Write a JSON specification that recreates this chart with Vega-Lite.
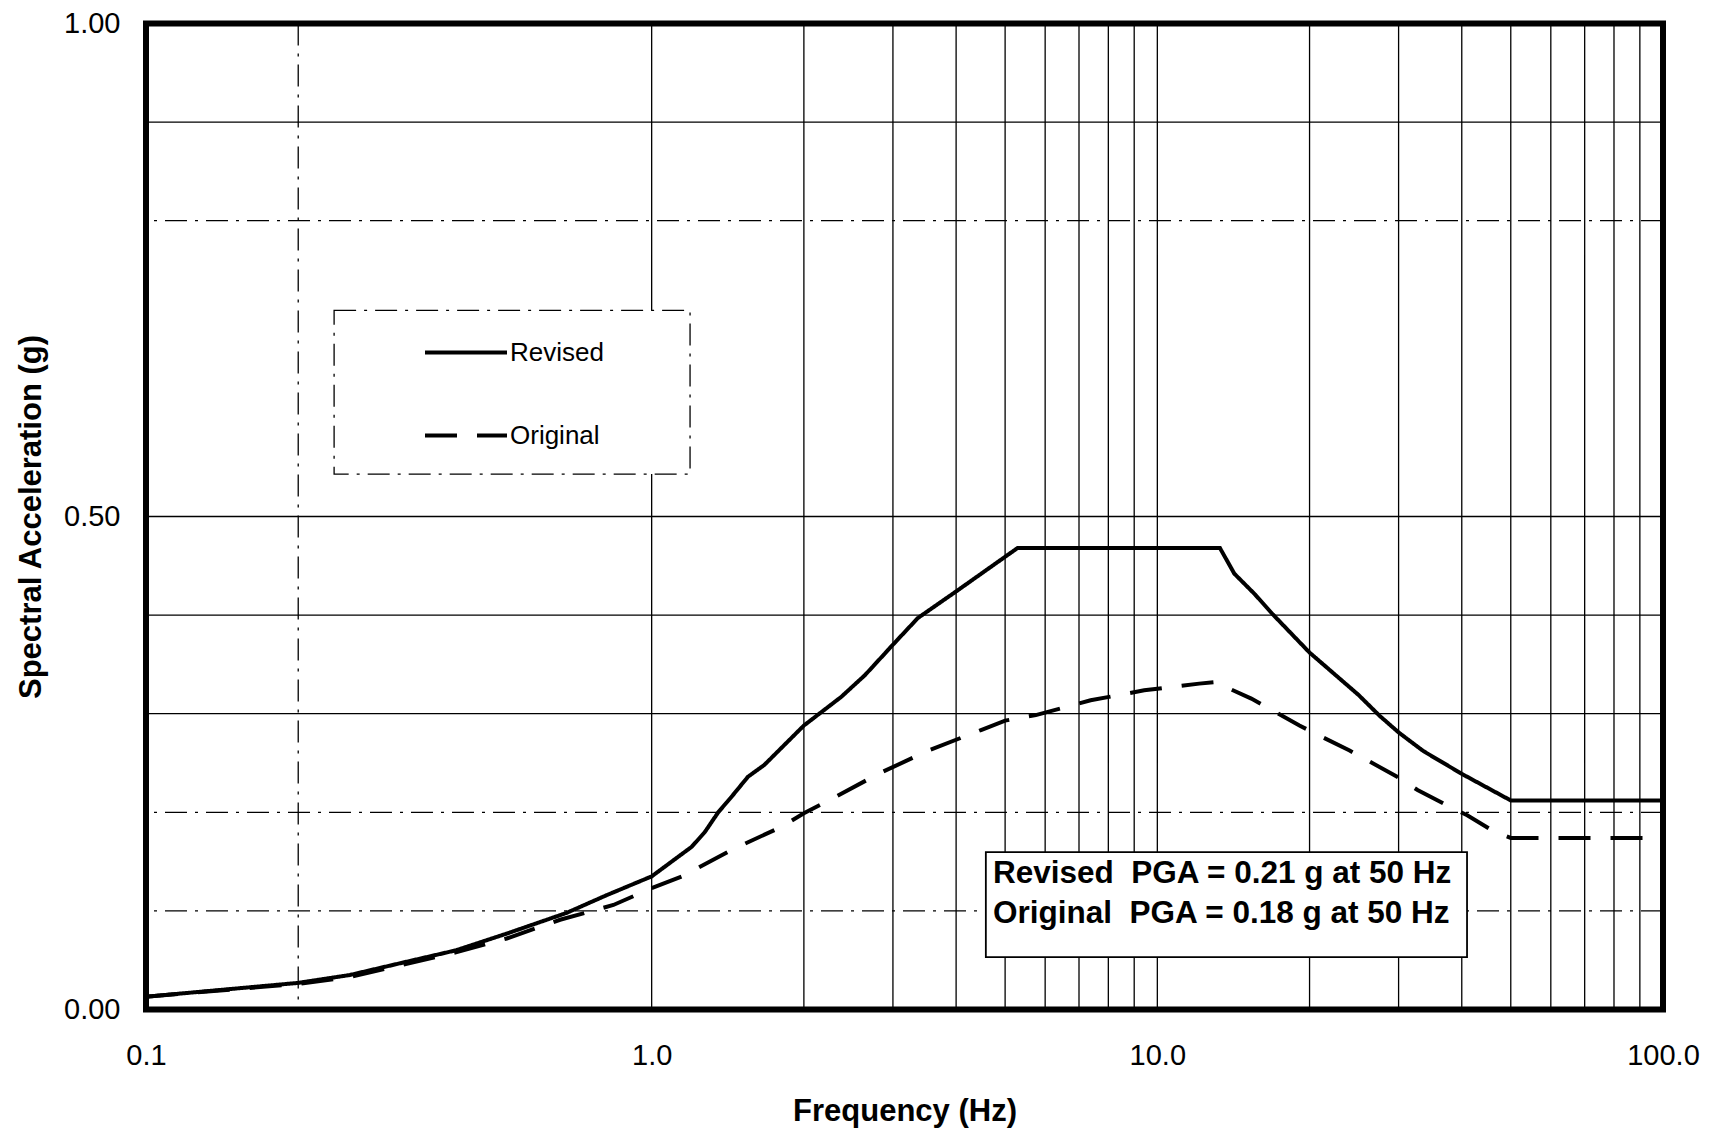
{
  "$schema": "https://vega.github.io/schema/vega-lite/v6.json",
  "width": 1517,
  "height": 986,
  "autosize": {"type": "none"},
  "padding": {"left": 146, "top": 23.5, "right": 54, "bottom": 120.5},
  "background": "white",
  "config": {
    "view": {"stroke": "black", "strokeWidth": 6},
    "font": "Liberation Sans",
    "axisX": {
      "grid": false, "ticks": false, "domain": false,
      "labelFontSize": 29, "labelPadding": 32, "labelColor": "black", "labelFlush": false, "labelOverlap": false,
      "titleFontSize": 31, "titleFontWeight": "bold", "titleColor": "black",
      "titleY": 102, "titleBaseline": "middle"
    },
    "axisY": {
      "grid": false, "ticks": false, "domain": false,
      "labelFontSize": 29, "labelPadding": 26, "labelColor": "black", "labelFlush": false, "labelOverlap": false,
      "titleFontSize": 31, "titleFontWeight": "bold", "titleColor": "black",
      "titleX": -115, "titleBaseline": "middle"
    }
  },
  "datasets": {
    "curves": [
      {"freq": 0.1, "accel": 0.013, "series": "Revised"},
      {"freq": 0.2, "accel": 0.027, "series": "Revised"},
      {"freq": 0.253, "accel": 0.035, "series": "Revised"},
      {"freq": 0.328, "accel": 0.0485, "series": "Revised"},
      {"freq": 0.41, "accel": 0.06, "series": "Revised"},
      {"freq": 0.517, "accel": 0.077, "series": "Revised"},
      {"freq": 0.679, "accel": 0.098, "series": "Revised"},
      {"freq": 0.815, "accel": 0.116, "series": "Revised"},
      {"freq": 1.0, "accel": 0.135, "series": "Revised"},
      {"freq": 1.2, "accel": 0.165, "series": "Revised"},
      {"freq": 1.274, "accel": 0.18, "series": "Revised"},
      {"freq": 1.354, "accel": 0.2, "series": "Revised"},
      {"freq": 1.44, "accel": 0.216, "series": "Revised"},
      {"freq": 1.55, "accel": 0.236, "series": "Revised"},
      {"freq": 1.67, "accel": 0.248, "series": "Revised"},
      {"freq": 2.0, "accel": 0.288, "series": "Revised"},
      {"freq": 2.37, "accel": 0.317, "series": "Revised"},
      {"freq": 2.64, "accel": 0.339, "series": "Revised"},
      {"freq": 3.0, "accel": 0.37, "series": "Revised"},
      {"freq": 3.36, "accel": 0.397, "series": "Revised"},
      {"freq": 4.0, "accel": 0.424, "series": "Revised"},
      {"freq": 5.29, "accel": 0.468, "series": "Revised"},
      {"freq": 13.3, "accel": 0.468, "series": "Revised"},
      {"freq": 14.2, "accel": 0.442, "series": "Revised"},
      {"freq": 15.6, "accel": 0.421, "series": "Revised"},
      {"freq": 16.9, "accel": 0.401, "series": "Revised"},
      {"freq": 20.0, "accel": 0.362, "series": "Revised"},
      {"freq": 25.0, "accel": 0.319, "series": "Revised"},
      {"freq": 27.5, "accel": 0.298, "series": "Revised"},
      {"freq": 30.0, "accel": 0.281, "series": "Revised"},
      {"freq": 33.6, "accel": 0.262, "series": "Revised"},
      {"freq": 40.0, "accel": 0.239, "series": "Revised"},
      {"freq": 50.0, "accel": 0.212, "series": "Revised"},
      {"freq": 100.0, "accel": 0.212, "series": "Revised"},
      {"freq": 0.1, "accel": 0.013, "series": "Original"},
      {"freq": 0.2, "accel": 0.026, "series": "Original"},
      {"freq": 0.253, "accel": 0.033, "series": "Original"},
      {"freq": 0.41, "accel": 0.058, "series": "Original"},
      {"freq": 0.517, "accel": 0.072, "series": "Original"},
      {"freq": 0.659, "accel": 0.091, "series": "Original"},
      {"freq": 0.84, "accel": 0.106, "series": "Original"},
      {"freq": 1.0, "accel": 0.123, "series": "Original"},
      {"freq": 1.155, "accel": 0.1355, "series": "Original"},
      {"freq": 1.44, "accel": 0.162, "series": "Original"},
      {"freq": 1.81, "accel": 0.1855, "series": "Original"},
      {"freq": 2.0, "accel": 0.199, "series": "Original"},
      {"freq": 2.25, "accel": 0.2125, "series": "Original"},
      {"freq": 2.82, "accel": 0.2395, "series": "Original"},
      {"freq": 3.54, "accel": 0.263, "series": "Original"},
      {"freq": 4.48, "accel": 0.2834, "series": "Original"},
      {"freq": 5.0, "accel": 0.293, "series": "Original"},
      {"freq": 5.75, "accel": 0.2986, "series": "Original"},
      {"freq": 7.38, "accel": 0.3136, "series": "Original"},
      {"freq": 9.42, "accel": 0.3237, "series": "Original"},
      {"freq": 12.1, "accel": 0.3305, "series": "Original"},
      {"freq": 13.0, "accel": 0.332, "series": "Original"},
      {"freq": 15.34, "accel": 0.3153, "series": "Original"},
      {"freq": 16.9, "accel": 0.3034, "series": "Original"},
      {"freq": 19.1, "accel": 0.288, "series": "Original"},
      {"freq": 21.2, "accel": 0.2763, "series": "Original"},
      {"freq": 24.0, "accel": 0.2627, "series": "Original"},
      {"freq": 29.8, "accel": 0.236, "series": "Original"},
      {"freq": 32.7, "accel": 0.2226, "series": "Original"},
      {"freq": 37.3, "accel": 0.2074, "series": "Original"},
      {"freq": 41.0, "accel": 0.197, "series": "Original"},
      {"freq": 46.5, "accel": 0.18, "series": "Original"},
      {"freq": 50.0, "accel": 0.174, "series": "Original"},
      {"freq": 100.0, "accel": 0.174, "series": "Original"}
    ],
    "hgrid": [
      {"accel": 0.1, "style": "dashdot"},
      {"accel": 0.2, "style": "dashdot"},
      {"accel": 0.3, "style": "solid"},
      {"accel": 0.4, "style": "solid"},
      {"accel": 0.5, "style": "solid"},
      {"accel": 0.8, "style": "dashdot"},
      {"accel": 0.9, "style": "solid"}
    ],
    "vgrid": [
      {"freq": 0.2, "style": "dashdot"},
      {"freq": 1, "style": "solid"},
      {"freq": 2, "style": "solid"},
      {"freq": 3, "style": "solid"},
      {"freq": 4, "style": "solid"},
      {"freq": 5, "style": "solid"},
      {"freq": 6, "style": "solid"},
      {"freq": 7, "style": "solid"},
      {"freq": 8, "style": "solid"},
      {"freq": 9, "style": "solid"},
      {"freq": 10, "style": "solid"},
      {"freq": 20, "style": "solid"},
      {"freq": 30, "style": "solid"},
      {"freq": 40, "style": "solid"},
      {"freq": 50, "style": "solid"},
      {"freq": 60, "style": "solid"},
      {"freq": 70, "style": "solid"},
      {"freq": 80, "style": "solid"},
      {"freq": 90, "style": "solid"}
    ],
    "legendbox": [
      {"freq": 0.2355, "freq2": 1.191, "accel": 0.709, "accel2": 0.543}
    ],
    "notebox": [
      {"freq": 4.58, "freq2": 40.97, "accel": 0.1597, "accel2": 0.0532}
    ],
    "notes": [
      {"freq": 4.73, "accel": 0.128, "label": "Revised\u00a0 PGA = 0.21 g at 50 Hz"},
      {"freq": 4.73, "accel": 0.088, "label": "Original\u00a0 PGA = 0.18 g at 50 Hz"}
    ]
  },
  "layer": [
    {
      "data": {"name": "hgrid"},
      "mark": {"type": "rule", "color": "black", "strokeWidth": 1.3},
      "encoding": {
        "y": {"field": "accel", "type": "quantitative", "title": "Spectral Acceleration (g)", "scale": {"domain": [0, 1], "nice": false, "zero": false}, "axis": {"values": [0, 0.5, 1], "format": ".2f"}},
        "strokeDash": {"field": "style", "type": "nominal", "scale": {"domain": ["solid", "dashdot"], "range": [[1, 0], [22, 8, 3, 8]]}, "legend": null}
      }
    },
    {
      "data": {"name": "vgrid"},
      "mark": {"type": "rule", "color": "black", "strokeWidth": 1.3},
      "encoding": {
        "x": {"field": "freq", "type": "quantitative", "title": "Frequency (Hz)", "scale": {"type": "log", "domain": [0.1, 100], "nice": false}, "axis": {"values": [0.1, 1, 10, 100], "format": ".1f"}},
        "strokeDash": {"field": "style", "type": "nominal", "scale": {"domain": ["solid", "dashdot"], "range": [[1, 0], [22, 8, 3, 8]]}, "legend": null}
      }
    },
    {
      "data": {"name": "legendbox"},
      "mark": {"type": "rect", "fill": "white", "stroke": "black", "strokeWidth": 1.3, "strokeDash": [22, 8, 3, 8]},
      "encoding": {
        "x": {"field": "freq", "type": "quantitative", "title": "Frequency (Hz)", "scale": {"type": "log", "domain": [0.1, 100], "nice": false}, "axis": {"values": [0.1, 1, 10, 100], "format": ".1f"}},
        "x2": {"field": "freq2"},
        "y": {"field": "accel", "type": "quantitative", "title": "Spectral Acceleration (g)", "scale": {"domain": [0, 1], "nice": false, "zero": false}, "axis": {"values": [0, 0.5, 1], "format": ".2f"}},
        "y2": {"field": "accel2"}
      }
    },
    {
      "data": {"name": "curves"},
      "mark": {"type": "line", "color": "black", "strokeWidth": 4, "strokeCap": "butt"},
      "encoding": {
        "x": {"field": "freq", "type": "quantitative", "title": "Frequency (Hz)", "scale": {"type": "log", "domain": [0.1, 100], "nice": false}, "axis": {"values": [0.1, 1, 10, 100], "format": ".1f"}},
        "y": {"field": "accel", "type": "quantitative", "title": "Spectral Acceleration (g)", "scale": {"domain": [0, 1], "nice": false, "zero": false}, "axis": {"values": [0, 0.5, 1], "format": ".2f"}},
        "order": {"field": "freq", "type": "quantitative"},
        "strokeDash": {
          "field": "series", "type": "nominal",
          "scale": {"domain": ["Revised", "Original"], "range": [[1, 0], [32, 20]]},
          "legend": {
            "title": null, "orient": "none", "legendX": 277, "legendY": 286,
            "symbolType": "stroke", "symbolSize": 6724, "symbolStrokeWidth": 4, "symbolStrokeColor": "black",
            "labelFontSize": 26, "labelOffset": 1, "labelColor": "black", "rowPadding": 27, "padding": 0
          }
        }
      }
    },
    {
      "data": {"name": "notebox"},
      "mark": {"type": "rect", "fill": "white", "stroke": "black", "strokeWidth": 1.8},
      "encoding": {
        "x": {"field": "freq", "type": "quantitative", "title": "Frequency (Hz)", "scale": {"type": "log", "domain": [0.1, 100], "nice": false}, "axis": {"values": [0.1, 1, 10, 100], "format": ".1f"}},
        "x2": {"field": "freq2"},
        "y": {"field": "accel", "type": "quantitative", "title": "Spectral Acceleration (g)", "scale": {"domain": [0, 1], "nice": false, "zero": false}, "axis": {"values": [0, 0.5, 1], "format": ".2f"}},
        "y2": {"field": "accel2"}
      }
    },
    {
      "data": {"name": "notes"},
      "mark": {"type": "text", "align": "left", "baseline": "alphabetic", "fontSize": 31.5, "fontWeight": "bold", "color": "black"},
      "encoding": {
        "x": {"field": "freq", "type": "quantitative", "title": "Frequency (Hz)", "scale": {"type": "log", "domain": [0.1, 100], "nice": false}, "axis": {"values": [0.1, 1, 10, 100], "format": ".1f"}},
        "y": {"field": "accel", "type": "quantitative", "title": "Spectral Acceleration (g)", "scale": {"domain": [0, 1], "nice": false, "zero": false}, "axis": {"values": [0, 0.5, 1], "format": ".2f"}},
        "text": {"field": "label", "type": "nominal"}
      }
    }
  ],
  "resolve": {"scale": {"strokeDash": "independent"}}
}
